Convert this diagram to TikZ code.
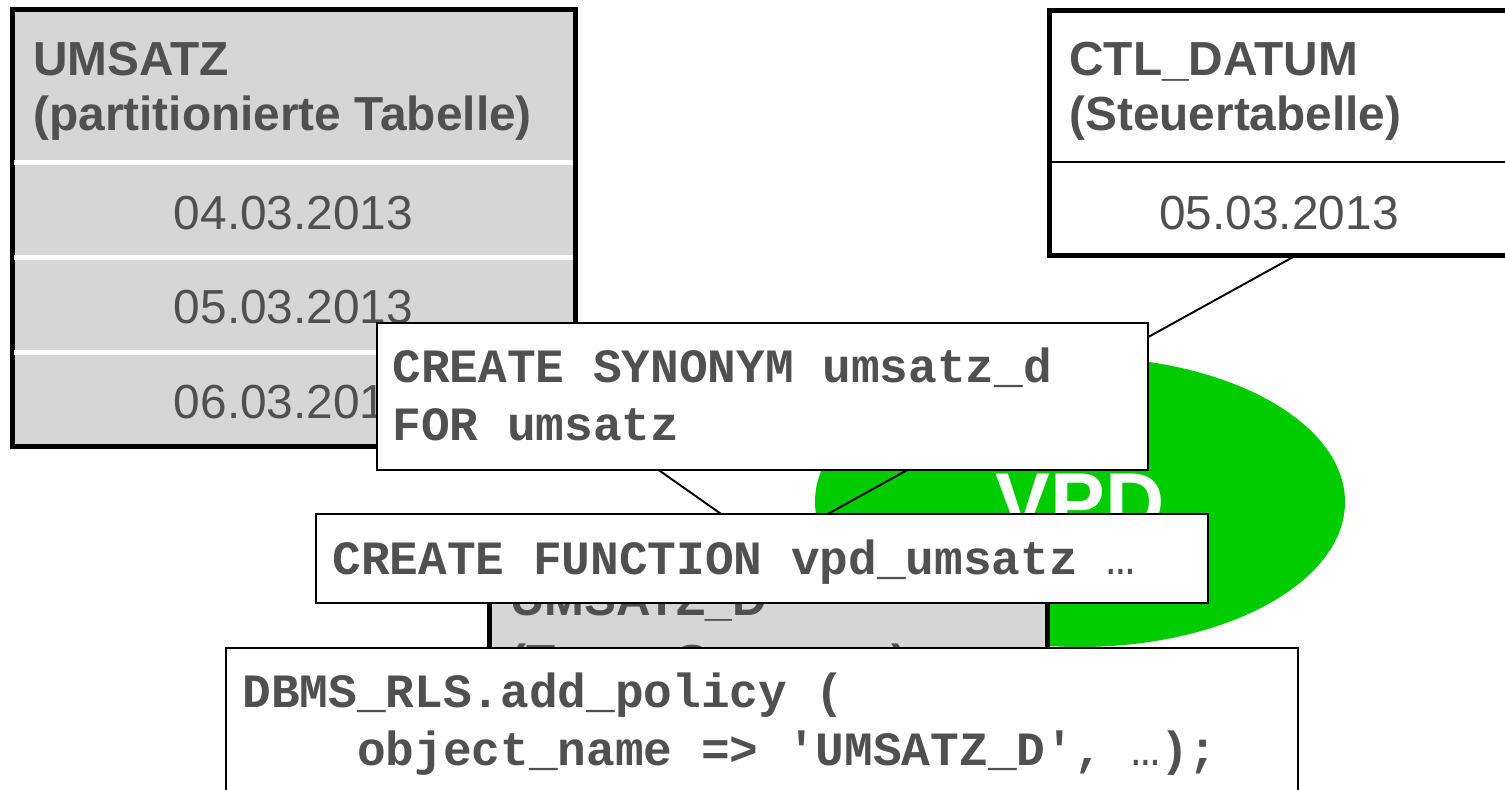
\documentclass[tikz,border=0pt]{standalone}
\usepackage{fontspec}
\setmainfont{Liberation Sans}
\setmonofont{Liberation Mono}
\usetikzlibrary{shapes.geometric,backgrounds}

\newcommand{\codedots}{{\mdseries …}}

\begin{document}
\begin{tikzpicture}[x=1cm,y=1cm,
  tablebox/.style={draw=black,line width=0.1cm,rectangle,anchor=north west,inner sep=0pt,outer sep=0pt},
  codebox/.style={draw=black,line width=1pt,fill=white,rectangle,anchor=north west,inner sep=0pt,outer sep=0pt},
  headtext/.style={anchor=north west,inner sep=0pt,align=left,text=textgray,font=\fontsize{27.2}{31.3}\selectfont\bfseries},
  datetext/.style={inner sep=0pt,text=textgray,font=\fontsize{27.2}{31.3}\selectfont},
  codetext/.style={anchor=north west,inner sep=0pt,align=left,text=textgray,font=\fontsize{27.2}{33}\selectfont\ttfamily\bfseries},
  link/.style={draw=black,line width=1.1pt}]
\definecolor{tablegray}{HTML}{D6D6D6}
\definecolor{textgray}{HTML}{505050}
\definecolor{vpdgreen}{HTML}{00CC00}
\useasboundingbox (0,0) rectangle (30.1,15.8);

% policy ellipse
\begin{scope}[on background layer]
\node[ellipse,fill=vpdgreen,minimum width=10.6cm,minimum height=5.8cm,inner sep=0pt,
  text=white,font=\fontsize{46.7}{50}\selectfont\bfseries] (vpd) at (21.6,5.76) {VPD};
\end{scope}

% partitioned table
\node[tablebox,fill=tablegray,minimum width=11.26cm,minimum height=8.74cm] (umsatz) at (0.24,15.6) {};
\foreach \y in {12.54,10.64,8.74}
  \draw[white,line width=0.1cm] (0.29,\y) -- (11.45,\y);
\node[headtext] (umsatzhead) at (0.66,14.96) {UMSATZ\\(partitionierte Tabelle)};
\foreach \y/\lab [count=\i] in {11.54/04.03.2013,9.66/05.03.2013,7.76/06.03.2013}
  \node[datetext] (day\i) at (5.87,\y) {\lab};

% control table
\node[tablebox,fill=white,minimum width=9.84cm,minimum height=4.91cm] (ctl) at (20.98,15.59) {};
\draw[black,line width=0.04cm] (21.03,12.55) -- (30.77,12.55);
\node[headtext] (ctlhead) at (21.38,14.96) {CTL\_DATUM\\(Steuertabelle)};
\node[datetext] (ctlday) at (25.58,11.54) {05.03.2013};

% daily synonym
\node[tablebox,fill=tablegray,minimum width=11.16cm,minimum height=3.2cm] (umsatzd) at (9.78,4.86) {};
\node[headtext] (umsatzdhead) at (10.2,4.16) {UMSATZ\_D\\[0.16cm](Tages-Synonym)};

\begin{scope}[on background layer]
\draw[link] (day1.center) -- (umsatzd.north);
\draw[link] (ctl.south) -- (umsatzd.north);
\end{scope}

% code snippets
\node[codebox,minimum width=15.42cm,minimum height=2.94cm] (synonym) at (7.54,9.34) {};
\node[codetext] (synonymtext) at (7.84,8.84) {CREATE SYNONYM umsatz\_d\\FOR umsatz};
\node[codebox,minimum width=17.84cm,minimum height=1.78cm] (function) at (6.32,5.52) {};
\node[codetext] (functiontext) at (6.64,5.0) {CREATE FUNCTION vpd\_umsatz \codedots};
\node[codebox,minimum width=21.44cm,minimum height=4cm] (policy) at (4.52,2.84) {};
\node[codetext] (policytext) at (4.84,2.34) {DBMS\_RLS.add\_policy (\\\phantom{1234}object\_name => 'UMSATZ\_D', \codedots);};
\end{tikzpicture}
\end{document}
